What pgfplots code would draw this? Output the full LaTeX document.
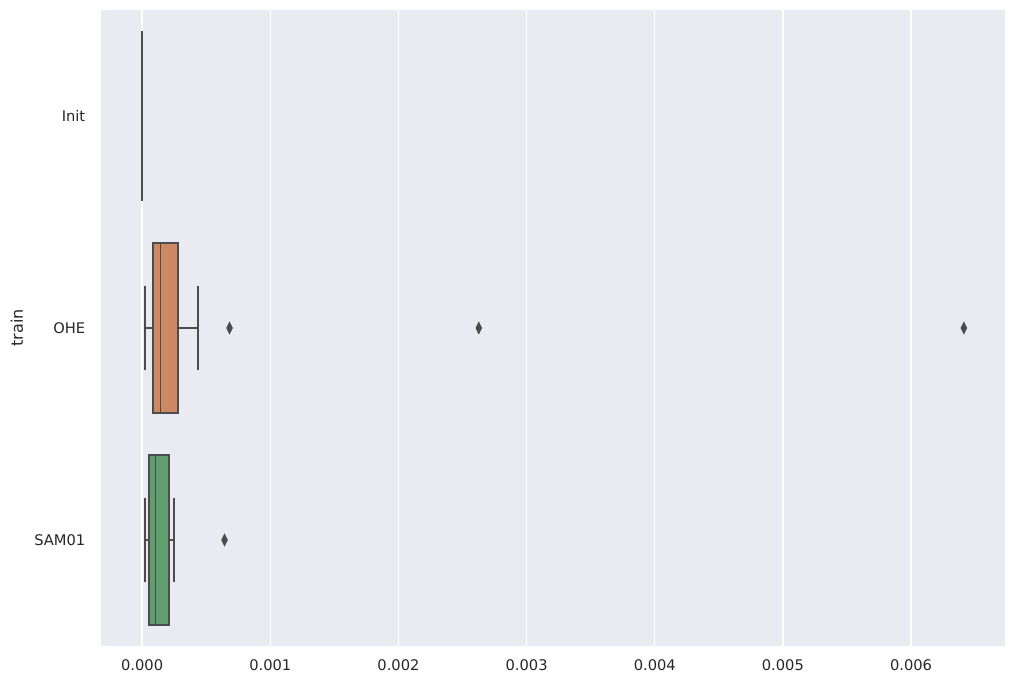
\documentclass[border=0pt]{standalone}
\usepackage{pgfplots}
\pgfplotsset{compat=1.18}
\usepgfplotslibrary{statistics}
\usepackage{fontspec}
\setmainfont{DejaVu Sans}
\definecolor{bgc}{HTML}{EAEAF2}
\definecolor{linec}{HTML}{4C4C4C}
\definecolor{txt}{HTML}{262626}
\definecolor{c1}{HTML}{5A76A8}
\definecolor{c2}{HTML}{CC8963}
\definecolor{c3}{HTML}{5F9E6E}
\begin{document}
\begin{tikzpicture}
\begin{axis}[
  scale only axis,
  width=678pt, height=477pt,
  xmin=-0.000321, xmax=0.006733,
  ymin=-0.5, ymax=2.5,
  y dir=reverse,
  axis background/.style={fill=bgc},
  axis line style={draw=none},
  major tick length=0pt,
  xmajorgrids,
  grid style={white, line width=1pt},
  xtick={0,0.001,0.002,0.003,0.004,0.005,0.006},
  scaled x ticks=false,
  xticklabel style={/pgf/number format/.cd, fixed, fixed zerofill, precision=3, /tikz/.cd, font=\fontsize{11}{13}\selectfont, text=txt, yshift=-6.8pt},
  /pgf/number format/assume math mode=true,
  ytick={0,1,2},
  yticklabels={Init,OHE,SAM01},
  yticklabel style={font=\fontsize{11}{13}\selectfont, text=txt, xshift=-8.3pt},
  ylabel={train},
  every axis y label/.style={at={([xshift=-63pt]rel axis cs:0,0.5)}, rotate=90, anchor=center, font=\fontsize{12}{14}\selectfont, text=txt},
  boxplot/draw direction=x,
  boxplot/box extend=0.8,
  boxplot/whisker extend=0.4,
  boxplot/every box/.style={draw=linec, line width=1.4pt},
  boxplot/every whisker/.style={draw=linec, line width=1.4pt},
  boxplot/every median/.style={draw=linec, line width=1.4pt},
  clip=false,
]
\addplot[boxplot prepared={lower whisker=0, lower quartile=0, median=0, upper quartile=0, upper whisker=0, draw position=0}, draw=linec, fill=c1, line width=1.4pt] coordinates {};
\addplot[boxplot prepared={lower whisker=0.0000257, lower quartile=0.0000857, median=0.000143, upper quartile=0.000283, upper whisker=0.000438, draw position=1}, draw=linec, fill=c2, line width=1.4pt, mark=diamond*, mark size=4.3pt, mark options={xscale=0.66, fill=linec, draw=linec, line width=0.6pt}] table[row sep=\\, header=false, y index=0] {0.000682\\ 0.002627\\ 0.006412\\};
\addplot[boxplot prepared={lower whisker=0.0000257, lower quartile=0.0000545, median=0.000104, upper quartile=0.000207, upper whisker=0.000252, draw position=2}, draw=linec, fill=c3, line width=1.4pt, mark=diamond*, mark size=4.3pt, mark options={xscale=0.66, fill=linec, draw=linec, line width=0.6pt}] table[row sep=\\, header=false, y index=0] {0.000643\\};
\end{axis}
\path[use as bounding box] ([xshift=-75.75pt,yshift=-28.5pt]current axis.south west) rectangle ([xshift=686.25pt,yshift=484.5pt]current axis.south west);
\end{tikzpicture}
\end{document}
